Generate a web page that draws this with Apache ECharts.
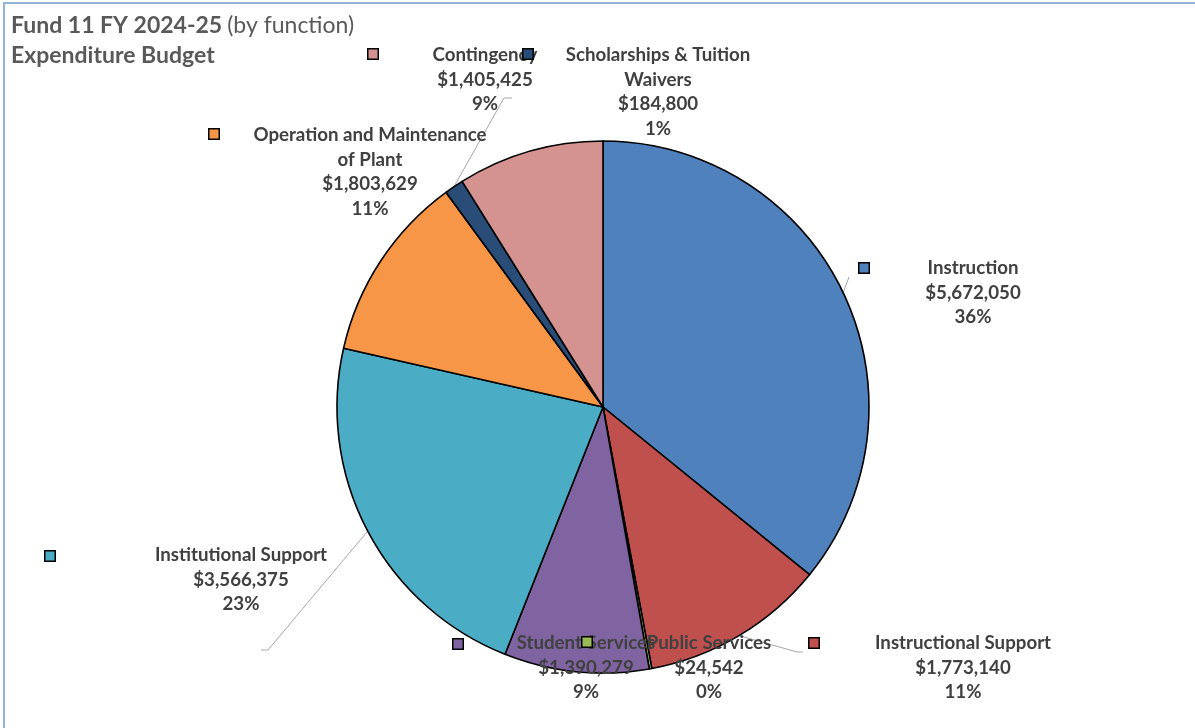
<!DOCTYPE html>
<html>
<head>
<meta charset="utf-8">
<title>Fund 11 FY 2024-25 Expenditure Budget</title>
<script src="https://cdn.jsdelivr.net/npm/echarts@6/dist/echarts.min.js"></script>
<style>
  html, body { margin: 0; padding: 0; background: #fff; }
  #chart { width: 1195px; height: 728px; }
</style>
</head>
<body>
<div id="chart"></div>
<script>
// Expenditure budget by function
const categories = [
  'Instruction',
  'Instructional Support',
  'Public Services',
  'Student Services',
  'Institutional Support',
  'Operation and Maintenance of Plant',
  'Scholarships & Tuition Waivers',
  'Contingency'
];
const amounts = [5672050, 1773140, 24542, 1390279, 3566375, 1803629, 184800, 1405425];
const labelNames = [
  'Instruction',
  'Instructional Support',
  'Public Services',
  'Student Services',
  'Institutional Support',
  'Operation and Maintenance\nof Plant',
  'Scholarships & Tuition\nWaivers',
  'Contingency'
];
const sliceColors = ['#4F81BD', '#C0504D', '#9BBB59', '#8064A2', '#4BACC6', '#F79646', '#2A4D77', '#D49391'];

// Layout: pie geometry, label text anchors (centre x, top y), legend-key positions, leader elbows
const pieCenter = [603, 407];
const pieRadius = 266;
const textAnchors = [[973, 256], [963, 631], [709, 631], [586, 631], [241, 543], [370, 123], [658, 43], [485, 43]];
const keyAnchors = [[864, 268], [814, 643], [587, 642], [458, 644], [50, 556], [214, 134], [528, 54], [373, 54]];
const leaderElbows = [
  [[849, 277]],
  [[797, 652], [803, 652]],
  null,
  null,
  [[268, 650], [261, 650]],
  null,
  [[504, 98], [512, 98]],
  null
];

const total = amounts.reduce((a, b) => a + b, 0);

// Point on the pie rim at the middle of slice i (clockwise from 12 o'clock)
function rimPoint(i) {
  let before = 0;
  for (let k = 0; k < i; k++) before += amounts[k];
  const theta = (before + amounts[i] / 2) / total * Math.PI * 2;
  return [pieCenter[0] + pieRadius * Math.sin(theta), pieCenter[1] - pieRadius * Math.cos(theta)];
}

const FONT = 'Lato, "Open Sans", sans-serif';

const chart = echarts.init(document.getElementById('chart'), null, { renderer: 'canvas' });

const sliceData = categories.map((name, i) => ({
  name: name,
  value: amounts[i],
  itemStyle: { color: sliceColors[i] },
  labelLine: { show: !!leaderElbows[i] }
}));

const keyRich = {};
sliceColors.forEach((c, i) => {
  keyRich['k' + i] = { width: 9, height: 9, backgroundColor: c, borderColor: '#000', borderWidth: 1.5 };
});

chart.setOption({
  animation: false,
  backgroundColor: '#fff',
  title: {
    left: 6,
    top: 6,
    text: '{b|Fund 11 FY 2024-25} {n|(by function)}\n{b|Expenditure Budget}',
    textStyle: {
      rich: {
        b: { fontFamily: FONT, fontSize: 23, fontWeight: 'bold', color: '#595959', lineHeight: 30 },
        n: { fontFamily: FONT, fontSize: 23, fontWeight: 'normal', color: '#595959', lineHeight: 30 }
      }
    }
  },
  graphic: [{
    type: 'rect',
    shape: { x: 4, y: 3, width: 1300, height: 800 },
    style: { fill: 'none', stroke: '#95B3D7', lineWidth: 2 },
    silent: true,
    z: 100
  }],
  series: [
    {
      type: 'pie',
      center: pieCenter,
      radius: pieRadius,
      startAngle: 90,
      clockwise: true,
      avoidLabelOverlap: false,
      silent: true,
      itemStyle: { borderColor: '#000', borderWidth: 1.6 },
      label: {
        show: true,
        position: 'outside',
        fontFamily: FONT,
        fontSize: 18.7,
        fontWeight: 'bold',
        color: '#404040',
        lineHeight: 24.5,
        align: 'center',
        formatter: p => labelNames[p.dataIndex] + '\n$' +
          amounts[p.dataIndex].toLocaleString('en-US') + '\n' + Math.round(p.percent) + '%'
      },
      labelLine: { show: true, lineStyle: { color: '#A6A6A6', width: 1 } },
      labelLayout: p => {
        const i = p.dataIndex;
        const out = { x: textAnchors[i][0], y: textAnchors[i][1], align: 'center', verticalAlign: 'top' };
        if (leaderElbows[i]) out.labelLinePoints = [rimPoint(i)].concat(leaderElbows[i]);
        return out;
      },
      data: sliceData
    },
    {
      // legend keys drawn beside each label
      type: 'pie',
      center: pieCenter,
      radius: pieRadius,
      startAngle: 90,
      silent: true,
      z: 5,
      itemStyle: { color: 'rgba(0,0,0,0)', borderWidth: 0 },
      label: {
        show: true,
        position: 'outside',
        formatter: p => '{k' + p.dataIndex + '|}',
        rich: keyRich
      },
      labelLine: { show: false },
      labelLayout: p => ({
        x: keyAnchors[p.dataIndex][0],
        y: keyAnchors[p.dataIndex][1],
        align: 'center',
        verticalAlign: 'middle'
      }),
      data: categories.map((name, i) => ({ name: name, value: amounts[i] }))
    }
  ]
});
</script>
</body>
</html>
